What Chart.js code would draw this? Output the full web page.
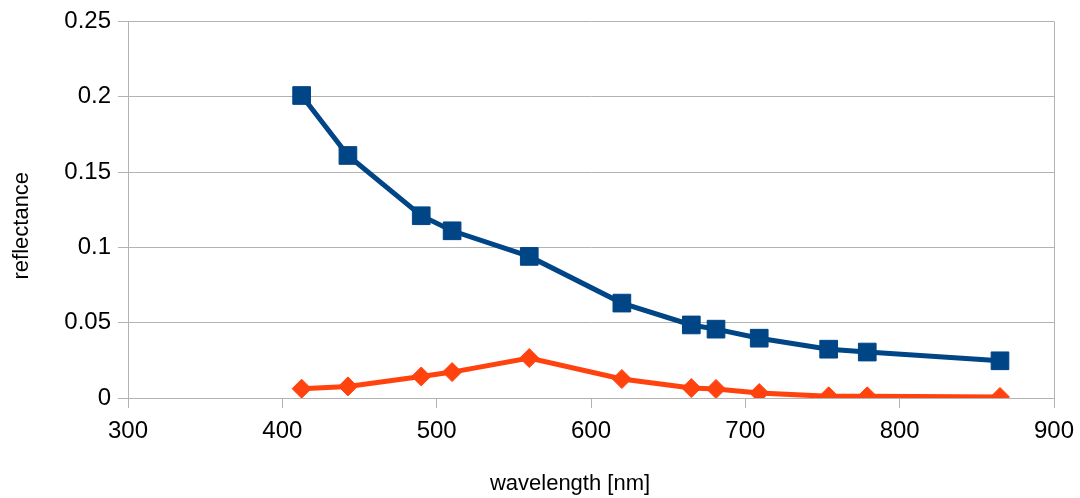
<!DOCTYPE html>
<html>
<head>
<meta charset="utf-8">
<script src="https://cdn.jsdelivr.net/npm/chart.js@4/dist/chart.umd.min.js"></script>
<style>
  html, body { margin: 0; padding: 0; background: #fff; }
  #wrap { width: 1080px; height: 498px; }
</style>
</head>
<body>
<div id="wrap"><canvas id="specChart" width="1080" height="498"></canvas></div>
<script>
// wavelengths of the bands [nm]
const wavelengths = [412.5, 442.5, 490, 510, 560, 620, 665, 681, 709, 754, 779, 865];
// reflectance values
const seriesA = [0.2008, 0.161, 0.121, 0.111, 0.094, 0.063, 0.0485, 0.0457, 0.0397, 0.0324, 0.0305, 0.0247];
const seriesB = [0.0062, 0.0077, 0.0143, 0.0172, 0.0265, 0.0126, 0.0066, 0.006, 0.0033, 0.0011, 0.0011, 0.0007];
const xTicks = [300, 400, 500, 600, 700, 800, 900];
const yTicks = [0, 0.05, 0.1, 0.15, 0.2, 0.25];
const xTitle = 'wavelength [nm]';
const yTitle = 'reflectance';

const gridGray = '#b3b3b3';
const fontFamily = '"Liberation Sans", Arial, sans-serif';
const tickFont = { family: fontFamily, size: 24 };

function toPoints(ys) {
    return wavelengths.map((x, i) => ({ x: x, y: ys[i] }));
}

// axis titles drawn by hand so they sit where the original puts them
const axisTitles = {
    id: 'axisTitles',
    afterDraw(chart) {
        const c = chart.ctx;
        const area = chart.chartArea;
        c.save();
        c.fillStyle = '#000';
        c.font = '22px ' + fontFamily;
        c.textAlign = 'center';
        c.textBaseline = 'middle';
        c.fillText(xTitle, (area.left + area.right) / 2 - 21, 484);
        c.translate(22, (area.top + area.bottom) / 2 + 16);
        c.rotate(-Math.PI / 2);
        c.fillText(yTitle, 0, 0);
        c.restore();
    }
};

const ctx = document.getElementById('specChart').getContext('2d');

new Chart(ctx, {
    type: 'scatter',
    data: {
        datasets: [{
            data: toPoints(seriesA),
            showLine: true,
            borderColor: '#004586',
            backgroundColor: '#004586',
            borderWidth: 5,
            pointStyle: 'rect',
            pointRadius: 12.5,
            pointBorderWidth: 1,
            pointHoverRadius: 12.5
        }, {
            data: toPoints(seriesB),
            showLine: true,
            borderColor: '#ff420e',
            backgroundColor: '#ff420e',
            borderWidth: 5,
            pointStyle: 'rectRot',
            pointRadius: 9.5,
            pointBorderWidth: 1,
            pointHoverRadius: 9.5
        }]
    },
    options: {
        responsive: false,
        animation: false,
        layout: { padding: { left: 8, right: 0, top: 8, bottom: 0 } },
        plugins: {
            legend: { display: false },
            tooltip: { enabled: false }
        },
        scales: {
            x: {
                type: 'linear',
                min: 300,
                max: 900,
                afterBuildTicks: axis => { axis.ticks = xTicks.map(v => ({ value: v })); },
                afterFit: axis => { axis.height = 100; axis.paddingRight = 26; },
                ticks: { color: '#000', font: tickFont, padding: 9, maxRotation: 0 },
                grid: {
                    color: c => (c.tick && c.tick.value === 900) ? gridGray : 'rgba(0,0,0,0)',
                    tickColor: gridGray,
                    tickLength: 10,
                    lineWidth: 1
                },
                border: { display: false }
            },
            y: {
                min: 0,
                max: 0.25,
                afterBuildTicks: axis => { axis.ticks = yTicks.map(v => ({ value: v })); },
                afterFit: axis => { axis.width = 120; },
                ticks: {
                    color: '#000',
                    font: tickFont,
                    padding: 7,
                    callback: v => String(+v.toFixed(2))
                },
                grid: {
                    color: gridGray,
                    tickColor: gridGray,
                    tickLength: 10,
                    lineWidth: 1
                },
                border: { display: true, color: gridGray }
            }
        }
    },
    plugins: [axisTitles]
});
</script>
</body>
</html>
